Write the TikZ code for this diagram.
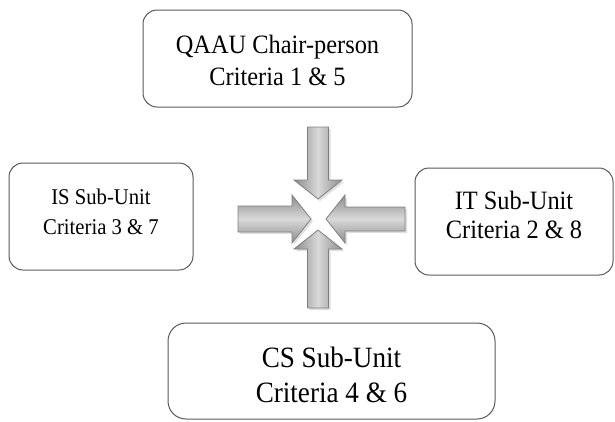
\documentclass[tikz,border=0pt]{standalone}
\usepackage{fontspec}
\setmainfont{Liberation Serif}[FakeStretch=0.92]
\usetikzlibrary{shadows}
\tikzstyle{unit} = [rectangle, rounded corners=14pt, draw=black!65, line width=1pt, align=center, fill=white, inner sep=0pt]
\tikzstyle{bigarrow} = [draw=black!50, line width=0.8pt, drop shadow={shadow xshift=2pt, shadow yshift=-2pt, opacity=0.25}]
\tikzstyle{vshade} = [left color=black!45, right color=black!45, middle color=black!15]
\tikzstyle{hshade} = [top color=black!45, bottom color=black!45, middle color=black!15]

% block arrow pointing along +x with its tip at the origin: #1 = length, #2 = half shaft width
\newcommand{\blockarrow}[2]{(0,0) -- (-19,24) -- (-19,#2) -- (-#1,#2) -- (-#1,-#2) -- (-19,-#2) -- (-19,-24) -- cycle}

\begin{document}
\begin{tikzpicture}[x=1pt, y=-1pt]
    \useasboundingbox (0,0) rectangle (615,421);

    \node (chair) [unit, minimum width=269pt, minimum height=97pt, text height=54pt, font=\fontsize{26.5}{32}\selectfont] at (277.5,58.5) {QAAU Chair-person\\Criteria 1 \& 5};
    \node (is) [unit, minimum width=184pt, minimum height=107pt, text depth=10pt, font=\fontsize{22.5}{30}\selectfont] at (101,216.5) {IS Sub-Unit\\Criteria 3 \& 7};
    \node (it) [unit, minimum width=198pt, minimum height=107pt, text depth=14pt, font=\fontsize{26.5}{29}\selectfont] at (514,221.5) {IT Sub-Unit\\Criteria 2 \& 8};
    \node (cs) [unit, minimum width=327pt, minimum height=96pt, rounded corners=18pt, text height=63pt, font=\fontsize{29.5}{35}\selectfont] at (331.5,371) {CS Sub-Unit\\Criteria 4 \& 6};

    % converging arrows
    \path [bigarrow, vshade, shift={(318,199)}, rotate=-90] \blockarrow{72}{10.5};
    \path [bigarrow, vshade, shift={(318,230)}, rotate=90] \blockarrow{78}{10.5};
    \path [bigarrow, hshade, shift={(311,219)}] \blockarrow{73}{13};
    \path [bigarrow, hshade, shift={(326,219)}, rotate=180] \blockarrow{79}{12};
\end{tikzpicture}
\end{document}
